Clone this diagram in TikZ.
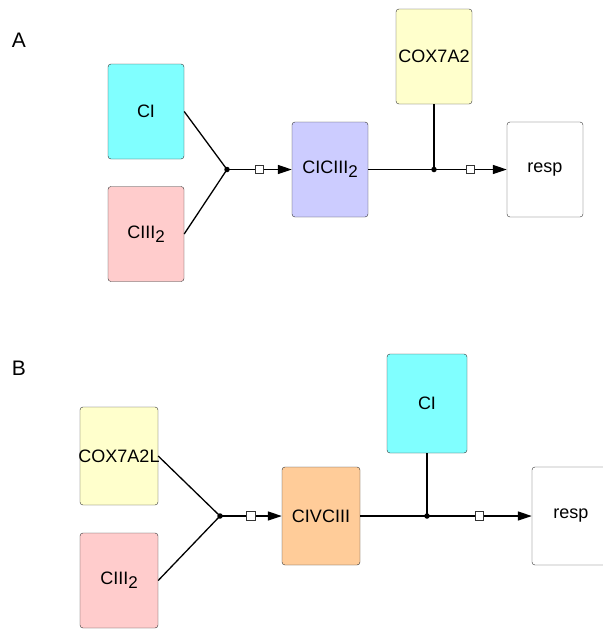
\documentclass[tikz,border=0pt]{standalone}
\usepackage{fontspec}
\setmainfont{Liberation Sans}
\usetikzlibrary{arrows.meta}
\definecolor{cyanbox}{RGB}{128,255,255}
\definecolor{pinkbox}{RGB}{255,204,204}
\definecolor{lilacbox}{RGB}{204,204,255}
\definecolor{yellowbox}{RGB}{255,255,204}
\definecolor{orangebox}{RGB}{255,204,153}
\newcommand{\lowtwo}{\raisebox{-0.4ex}{\fontsize{17}{17}\selectfont 2}}

\begin{document}
\begin{tikzpicture}[x=1pt,y=-1pt,
  species/.style={draw=gray!40!black,rounded corners=3pt,minimum width=76pt,
    minimum height=95pt,inner sep=0pt,font=\fontsize{18}{18}\selectfont},
  dot/.style={circle,fill=black,inner sep=0pt,minimum size=5.5pt},
  sq/.style={draw=gray!40!black,fill=white,inner sep=0pt,minimum size=8.5pt},
  flow/.style={line width=1.3pt},
  arr/.style={flow,-{Triangle[length=14pt,width=9pt]}},
  panel/.style={font=\fontsize{21}{21}\selectfont}]
\clip (0,0) rectangle (603,630);
\useasboundingbox (0,0) rectangle (603,630);
% A
\node[panel] (labA) at (19,40) {A};
\node[species,fill=cyanbox] (ciA) at (146,111.5) {CI};
\node[species,fill=pinkbox] (ciiiA) at (146,234) {CIII\lowtwo};
\node[species,fill=lilacbox] (ciciii) at (330,169.5) {CICIII\lowtwo};
\node[species,fill=yellowbox] (cox) at (434,56.5) {COX7A2};
\node[species,fill=white] (respA) at (545,169.5) {resp};
\node[dot] (jA1) at (227,169.5) {};
\node[dot] (jA2) at (434,169.5) {};
\draw[flow] (ciA.east) -- (jA1.center) (ciiiA.east) -- (jA1.center);
\draw[arr] (jA1.center) -- node[sq] {} (ciciii.west);
\draw[flow] (ciciii.east) -- (jA2.center) (cox.south) -- (jA2.center);
\draw[arr] (jA2.center) -- node[sq] {} (respA.west);
% B
\node[panel] (labB) at (19,368) {B};
\node[species,fill=yellowbox,minimum width=78pt,minimum height=98pt] (coxl) at (119,456) {\makebox[0pt]{COX7A2L}};
\node[species,fill=pinkbox,minimum width=78pt,minimum height=95pt] (ciiiB) at (119,580.5) {CIII\lowtwo};
\node[species,fill=orangebox,minimum width=78pt,minimum height=98pt] (civciii) at (321,516) {CIVCIII};
\node[species,fill=cyanbox,minimum width=80pt,minimum height=99pt] (ciB) at (427,403.5) {CI};
\node[species,fill=white,minimum width=78pt,minimum height=98pt] (respB) at (571,516) {resp};
\node[dot] (jB1) at (220,516) {};
\node[dot] (jB2) at (427,516) {};
\draw[flow] (coxl.east) -- (jB1.center) (ciiiB.east) -- (jB1.center);
\draw[arr] (jB1.center) -- node[sq] {} (civciii.west);
\draw[flow] (civciii.east) -- (jB2.center) (ciB.south) -- (jB2.center);
\draw[arr] (jB2.center) -- node[sq] {} (respB.west);
\end{tikzpicture}
\end{document}
